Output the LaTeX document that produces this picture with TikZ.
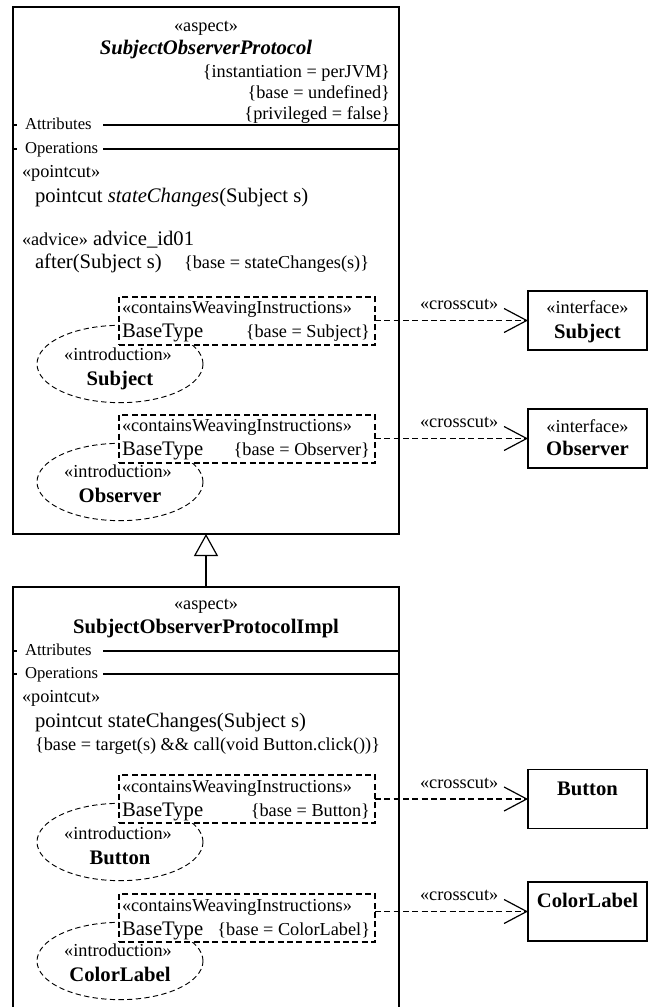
\documentclass[tikz,border=0pt]{standalone}
\usepackage{fontspec}
\setmainfont{Liberation Serif}
\usetikzlibrary{shapes.geometric}
\usetikzlibrary{arrows.meta}

\begin{document}
\begin{tikzpicture}[x=0.75pt,y=-0.75pt,
  every node/.style={inner sep=0pt,outer sep=0pt},
  lbl/.style={font=\fontsize{15.5}{18}\selectfont},
  stereo/.style={font=\fontsize{13.7}{16}\selectfont},
  sect/.style={font=\fontsize{12.5}{15}\selectfont},
  bname/.style={font=\fontsize{15.5}{18}\selectfont\bfseries},
  aspectbox/.style={rectangle,line width=0.9pt,minimum width=289.5pt},
  ifacebox/.style={draw,rectangle,line width=0.9pt,minimum width=89.25pt,minimum height=44.25pt},
  weavebox/.style={draw,rectangle,fill=white,line width=1pt,dash pattern=on 4.5pt off 2.5pt,minimum width=192pt,minimum height=36pt},
  introellipse/.style={draw,ellipse,line width=0.7pt,dash pattern=on 4pt off 2.5pt,minimum width=124.5pt,minimum height=58pt},
  crosscut/.style={line width=0.9pt,dash pattern=on 4.5pt off 2.5pt,-{Straight Barb[length=17pt,width=18pt]}},
  generalize/.style={line width=0.9pt,-{Triangle[open,length=16.5pt,width=18pt]}}]

\useasboundingbox (0,0) rectangle (652,1007);

% SubjectObserverProtocol
  \node[aspectbox,draw,minimum height=395.25pt] (proto) at (206,270.5) {};
  \node[stereo,anchor=base] (protoStereo) at (206,31) {«aspect»};
  \node[bname,anchor=base] (protoName) at (206,54) {\itshape SubjectObserverProtocol};
  \node[stereo,anchor=base east] (protoInst) at (390,77) {\{instantiation = perJVM\}};
  \node[stereo,anchor=base east] (protoBase) at (390,98) {\{base = undefined\}};
  \node[stereo,anchor=base east] (protoPriv) at (390,119) {\{privileged = false\}};

    % compartments
    \draw[line width=0.9pt] (13,125) -- (17,125) (103,125) -- (399,125);
    \node[sect,anchor=base west] (protoAttr) at (25,129) {Attributes};
    \draw[line width=0.9pt] (13,149) -- (17,149) (103,149) -- (399,149);
    \node[sect,anchor=base west] (protoOper) at (25,153) {Operations};

    % operations
    \node[stereo,anchor=base west] (protoPcStereo) at (22,177) {«pointcut»};
    \node[lbl,anchor=base west] (protoPc) at (35,202) {pointcut \textit{stateChanges}(Subject s)};
    \node[lbl,anchor=base west] (protoAdv) at (22,245) {{\fontsize{13.7}{16}\selectfont «advice»} advice\_id01};
    \node[lbl,anchor=base west] (protoAfter) at (35,268) {after(Subject s)};
    \node[stereo,anchor=base west] (protoAfterBase) at (184,268) {\{base = stateChanges(s)\}};

    % Subject introduction
    \node[introellipse] (introSubj) at (120,364) {};
    \node[weavebox] (weaveSubj) at (247,321) {};
    \node[stereo,anchor=base west] (weaveSubjStereo) at (122,313) {«containsWeavingInstructions»};
    \node[lbl,anchor=base west] (weaveSubjType) at (122,337) {BaseType};
    \node[stereo,anchor=base east] (weaveSubjBase) at (370,337) {\{base = Subject\}};
    \node[stereo,anchor=base] (introSubjStereo) at (118,360) {«introduction»};
    \node[bname,anchor=base] (introSubjName) at (120,385) {Subject};

    % Observer introduction
    \node[introellipse] (introObs) at (120,482) {};
    \node[weavebox] (weaveObs) at (247,439) {};
    \node[stereo,anchor=base west] (weaveObsStereo) at (122,431) {«containsWeavingInstructions»};
    \node[lbl,anchor=base west] (weaveObsType) at (122,455) {BaseType};
    \node[stereo,anchor=base east] (weaveObsBase) at (370,455) {\{base = Observer\}};
    \node[stereo,anchor=base] (introObsStereo) at (118,477) {«introduction»};
    \node[bname,anchor=base] (introObsName) at (120,502) {Observer};

% SubjectObserverProtocolImpl
  \node[aspectbox,minimum height=315pt] (impl) at (206,797) {};
  \draw[line width=0.9pt] (impl.south west) |- (impl.north east) -- (impl.south east);
  \node[stereo,anchor=base] (implStereo) at (206,609) {«aspect»};
  \node[bname,anchor=base] (implName) at (206,633) {SubjectObserverProtocolImpl};

    % compartments
    \draw[line width=0.9pt] (13,651) -- (17,651) (103,651) -- (399,651);
    \node[sect,anchor=base west] (implAttr) at (25,655) {Attributes};
    \draw[line width=0.9pt] (13,674) -- (17,674) (103,674) -- (399,674);
    \node[sect,anchor=base west] (implOper) at (25,678) {Operations};

    % operations
    \node[stereo,anchor=base west] (implPcStereo) at (22,702) {«pointcut»};
    \node[lbl,anchor=base west] (implPc) at (35,727) {pointcut stateChanges(Subject s)};
    \node[stereo,anchor=base west] (implPcBase) at (35,750) {\{base = target(s) \&\& call(void Button.click())\}};

    % Button introduction
    \node[introellipse] (introBtn) at (120,842) {};
    \node[weavebox] (weaveBtn) at (247,799) {};
    \node[stereo,anchor=base west] (weaveBtnStereo) at (122,792) {«containsWeavingInstructions»};
    \node[lbl,anchor=base west] (weaveBtnType) at (122,816) {BaseType};
    \node[stereo,anchor=base east] (weaveBtnBase) at (370,816) {\{base = Button\}};
    \node[stereo,anchor=base] (introBtnStereo) at (118,839) {«introduction»};
    \node[bname,anchor=base] (introBtnName) at (120,864) {Button};

    % ColorLabel introduction
    \node[introellipse] (introCl) at (120,961) {};
    \node[weavebox] (weaveCl) at (247,918) {};
    \node[stereo,anchor=base west] (weaveClStereo) at (122,911) {«containsWeavingInstructions»};
    \node[lbl,anchor=base west] (weaveClType) at (122,935) {BaseType};
    \node[stereo,anchor=base east] (weaveClBase) at (370,935) {\{base = ColorLabel\}};
    \node[stereo,anchor=base] (introClStereo) at (118,956) {«introduction»};
    \node[bname,anchor=base] (introClName) at (120,981) {ColorLabel};

% targets
  \node[ifacebox] (subj) at (587.5,320.5) {};
  \node[stereo,anchor=base] (subjStereo) at (587.5,313) {«interface»};
  \node[bname,anchor=base] (subjName) at (587.5,338) {Subject};

  \node[ifacebox] (obs) at (587.5,438.5) {};
  \node[stereo,anchor=base] (obsStereo) at (587.5,432) {«interface»};
  \node[bname,anchor=base] (obsName) at (587.5,455) {Observer};

  \node[ifacebox] (btn) at (587.5,799) {};
  \node[bname,anchor=base] (btnName) at (587.5,795) {Button};

  \node[ifacebox] (cl) at (587.5,911.5) {};
  \node[bname,anchor=base] (clName) at (587.5,907) {ColorLabel};

% crosscuts
\draw[crosscut] (weaveSubj.east |- subj.west) -- (subj.west) node[stereo,pos=0.55,above=8pt] (xcSubj) {«crosscut»};
\draw[crosscut] (weaveObs.east |- obs.west) -- (obs.west) node[stereo,pos=0.55,above=8pt] (xcObs) {«crosscut»};
\draw[crosscut] (weaveBtn.east |- btn.west) -- (btn.west) node[stereo,pos=0.55,above=8pt] (xcBtn) {«crosscut»};
\draw[crosscut] (weaveCl.east |- cl.west) -- (cl.west) node[stereo,pos=0.55,above=8pt] (xcCl) {«crosscut»};

% generalization
\draw[generalize] (impl.north) -- (proto.south);

\end{tikzpicture}
\end{document}
